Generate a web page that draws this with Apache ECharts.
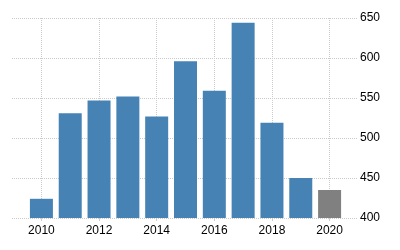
<!DOCTYPE html>
<html>
<head>
<meta charset="utf-8">
<script src="https://cdn.jsdelivr.net/npm/echarts@6/dist/echarts.min.js"></script>
<style>
html,body{margin:0;padding:0;background:#fff;}
#chart{width:400px;height:250px;}
</style>
</head>
<body>
<div id="chart"></div>
<script>
var years = ['2010','2011','2012','2013','2014','2015','2016','2017','2018','2019','2020'];
var values = [424, 531, 547, 552, 527, 596, 559, 644, 519, 450, 435];
var yTicks = [400, 450, 500, 550, 600, 650];

var chart = echarts.init(document.getElementById('chart'), null, {renderer: 'canvas'});
var font = 'Arial, "Liberation Sans", sans-serif';
chart.setOption({
  animation: false,
  grid: [
    {left: 12, right: 43, top: 18, bottom: 32},
    {left: 27, right: 56, top: 18, bottom: 32}
  ],
  xAxis: [
    {gridIndex: 0, type: 'value', show: false, min: 0, max: 1},
    {
      gridIndex: 1, type: 'category', data: years, boundaryGap: true,
      axisLine: {show: false},
      axisTick: {show: true, alignWithLabel: true, interval: 1, length: 3, lineStyle: {color: '#ccc'}},
      axisLabel: {interval: 1, color: '#000', fontSize: 12, fontFamily: font, margin: 7},
      splitLine: {show: true, alignWithLabel: true, interval: 1, lineStyle: {color: '#ccc', type: 'dotted'}}
    }
  ],
  yAxis: [
    {
      gridIndex: 0, type: 'value', position: 'right',
      min: yTicks[0], max: yTicks[yTicks.length - 1], interval: 50,
      axisLine: {show: false}, axisTick: {show: false},
      axisLabel: {color: '#000', fontSize: 12, fontFamily: font, margin: 3},
      splitLine: {show: true, lineStyle: {color: '#ccc', type: 'dotted'}}
    },
    {
      gridIndex: 1, type: 'value', show: false,
      min: yTicks[0], max: yTicks[yTicks.length - 1],
      splitLine: {show: false}
    }
  ],
  series: [{
    type: 'bar', xAxisIndex: 1, yAxisIndex: 1,
    data: values, barWidth: 23,
    itemStyle: {
      color: function (p) { return p.dataIndex === values.length - 1 ? '#808080' : '#4682b4'; }
    }
  }]
});
</script>
</body>
</html>
